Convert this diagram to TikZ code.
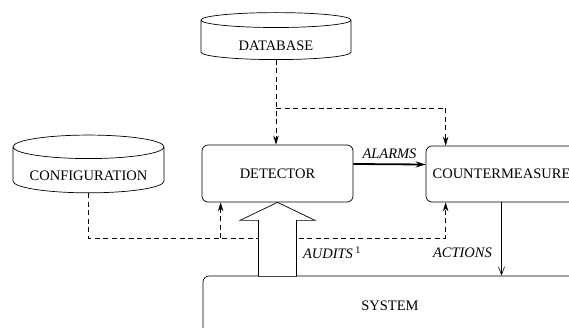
\documentclass[tikz,border=0pt]{standalone}
\usepackage{fontspec}
\setmainfont{Liberation Serif}
\usetikzlibrary{shapes.geometric, arrows.meta}

\tikzset{
	store/.style={draw, cylinder, shape border rotate=90, aspect=0.2, line width=0.7pt, inner sep=0pt, text height=22pt},
	block/.style={draw, rectangle, rounded corners=6pt, line width=0.7pt, inner sep=0pt},
	feed/.style={line width=0.7pt, dash pattern=on 5pt off 3.5pt, -{Stealth[length=9pt, width=5.5pt]}},
	tag/.style={font=\fontsize{14.5}{17}\selectfont\itshape},
}

\begin{document}
\begin{tikzpicture}[x=1pt, y=-1pt, font=\fontsize{14.5}{17}\selectfont]
	\useasboundingbox (0,0) rectangle (569,327);
	\clip (0,0) rectangle (569,327);

	\node (DB) at (276,40)     [store, minimum width=150, minimum height=47] {DATABASE};
	\node (CF) at (88.5,170)   [store, minimum width=151, minimum height=50] {CONFIGURATION};
	\node (DT) at (277.5,173.5) [block, minimum width=151, minimum height=57] {DETECTOR};
	\node (CM) at (501.5,174)  [block, minimum width=151, minimum height=56] {COUNTERMEASURE};
	\node (SY) at (390,306)    [block, minimum width=374, minimum height=60] {SYSTEM};

	\coordinate (split) at (DB.south |- 0,108);
	\coordinate (cmtop) at ([xshift=20]CM.north west);
	\coordinate (cmin) at ([xshift=20]CM.south west);
	\coordinate (dtin) at ([xshift=19]DT.south west);

	% knowledge flows from the stores
	\draw[feed] (DB.south) -- (DB.south |- DT.north);
	\draw[feed] (split) -| (cmtop);
	\draw[feed] (CF.south) |- (cmin |- 0,238) -- (cmin);
	\draw[feed] (dtin |- 0,238) -- (dtin);

	\draw[line width=1.8pt, -{Stealth[length=10pt, width=6pt]}] ([yshift=9.5]DT.east) -- ([yshift=9.5]CM.west)
		node[midway, above=1pt, tag] {ALARMS};
	\draw[line width=0.6pt, -{Straight Barb[length=8pt, width=6pt]}] (CM.south) -- (CM.south |- SY.north)
		node[pos=0.69, left=6pt, tag] {ACTIONS};

	% wide audit arrow from the system
	\draw[line width=0.7pt, fill=white] (DT.south) -- ++(37.5,18) -- ++(-18.5,0) -- ++(0,56) -- ++(-38,0)
		-- ++(0,-56) -- ++(-18.5,0) -- cycle;
	\node (au) at (332,253) [tag] {AUDITS\,\textsuperscript{\upshape 1}};
\end{tikzpicture}
\end{document}
